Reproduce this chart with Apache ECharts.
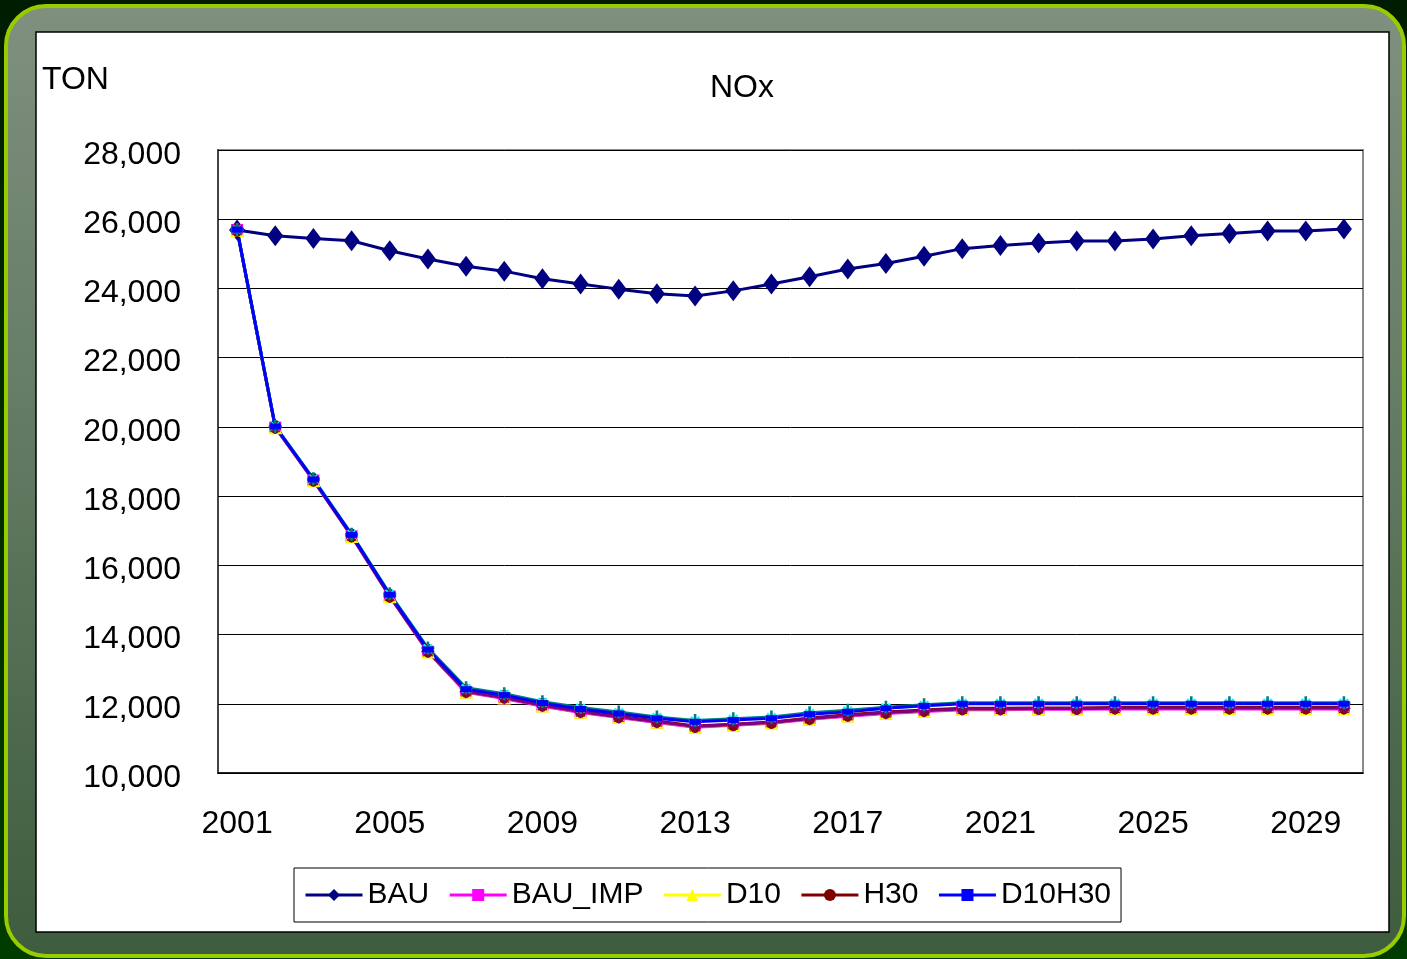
<!DOCTYPE html>
<html>
<head>
<meta charset="utf-8">
<script src="https://cdn.jsdelivr.net/npm/echarts@6/dist/echarts.min.js"></script>
<style>
html,body{margin:0;padding:0;background:#002800;}
#chart{width:1407px;height:959px;}
</style>
</head>
<body>
<div id="chart"></div>
<script>
const years = ['2001','2002','2003','2004','2005','2006','2007','2008','2009','2010','2011','2012','2013','2014','2015','2016','2017','2018','2019','2020','2021','2022','2023','2024','2025','2026','2027','2028','2029','2030'];
const bau =     [25690,25520,25440,25380,25090,24850,24640,24500,24280,24130,23980,23850,23780,23930,24130,24340,24560,24720,24930,25150,25240,25310,25370,25370,25430,25520,25590,25660,25660,25720];
const bauImp =  [25690,19980,18450,16840,15100,13500,12330,12150,11930,11750,11600,11460,11320,11380,11440,11550,11640,11720,11780,11830,11830,11840,11840,11850,11850,11850,11850,11850,11850,11850];
const d10 =     [25690,19990,18460,16850,15110,13510,12350,12180,11950,11770,11620,11480,11340,11400,11460,11570,11660,11740,11800,11850,11850,11860,11860,11870,11870,11870,11870,11870,11870,11870];
const h30 =     [25690,20000,18470,16860,15120,13530,12370,12200,11970,11790,11640,11500,11360,11410,11470,11590,11680,11760,11820,11870,11870,11880,11880,11890,11890,11890,11890,11890,11890,11890];
const d10h30 =  [25700,20010,18480,16880,15150,13570,12420,12250,12020,11850,11720,11580,11480,11530,11580,11700,11770,11870,11940,12000,12000,12000,12000,12000,12000,12000,12000,12000,12000,12000];
const extraTeal=[25700,20020,18500,16900,15180,13610,12460,12290,12060,11890,11760,11620,11520,11570,11620,11740,11810,11900,11970,12030,12030,12030,12030,12030,12030,12030,12030,12030,12030,12030];
const extraCyan=[25700,20010,18490,16890,15160,13590,12440,12270,12040,11870,11740,11600,11500,11550,11600,11720,11790,11880,11950,12010,12010,12010,12010,12010,12010,12010,12010,12010,12010,12010];
const extraPurple=[25690,19990,18460,16850,15110,13510,12350,12170,11950,11770,11620,11480,11340,11400,11460,11570,11660,11740,11800,11850,11850,11860,11860,11870,11870,11870,11870,11870,11870,11870];
const yTicks = {min:10000, max:28000, interval:2000};
const titleText = 'NOx';
const unitText = 'TON';

const FONT = 'Liberation Sans';
const plus = 'path://M4,0h2v4h4v2h-4v4h-2v-4h-4v-2h4z';
const star = 'path://M4.5,0h1v10h-1z M0,4.5h10v1h-10z M1,1.7l0.7,-0.7l7.3,7.3l-0.7,0.7z M9,1.7l-0.7,-0.7l-7.3,7.3l0.7,0.7z';

function ser(name, data, color, symbol, size, extra){
  return Object.assign({
    name: name, type:'line', data: data,
    symbol: symbol, symbolSize: size,
    lineStyle:{color: color, width: 3},
    itemStyle:{color: color},
    animation:false
  }, extra||{});
}

const chart = echarts.init(document.getElementById('chart'), null, {renderer:'canvas'});
chart.setOption({
  backgroundColor: {type:'linear',x:0,y:0,x2:0,y2:1,colorStops:[{offset:0,color:'#001c00'},{offset:1,color:'#003c00'}]},
  animation:false,
  graphic:[
    {type:'rect', z:-20, shape:{x:6,y:6,width:1398,height:950,r:40},
     style:{fill:{type:'linear',x:0,y:0,x2:0,y2:1,colorStops:[{offset:0,color:'#7f907f'},{offset:0.5,color:'#5f785f'},{offset:1,color:'#3e5c3e'}]},
            stroke:'#99cc00', lineWidth:4}},
    {type:'rect', z:-10, shape:{x:36,y:32,width:1353,height:900},
     style:{fill:'#ffffff', stroke:'#000000', lineWidth:1.5}},
    {type:'text', z:5, left:42, top:64, style:{text:unitText, fontFamily:FONT, fontSize:32, fill:'#000'}}
  ],
  title:{text:titleText, left:710, top:72, textStyle:{fontFamily:FONT, fontSize:32, fontWeight:'normal', color:'#000'}, padding:0},
  legend:{
    data:['BAU','BAU_IMP','D10','H30','D10H30'],
    left:294, top:868, padding:[12,10,12,10],
    itemWidth:57, itemHeight:15, itemGap:19,
    lineStyle:{width:3},
    borderColor:'#000', borderWidth:1, backgroundColor:'#fff',
    textStyle:{fontFamily:FONT, fontSize:30, color:'#000'}
  },
  grid:{left:218, right:44, top:150, bottom:186, show:true, borderColor:'#8a8a8a', borderWidth:2, backgroundColor:'#fff'},
  xAxis:{
    type:'category', data:years, boundaryGap:true,
    axisLine:{lineStyle:{color:'#000', width:1.5}},
    axisTick:{inside:true, length:10, interval:0, lineStyle:{color:'#000'}},
    axisLabel:{interval:3, margin:35, fontFamily:FONT, fontSize:32, color:'#000'},
    splitLine:{show:false}
  },
  yAxis:{
    type:'value', min:yTicks.min, max:yTicks.max, interval:yTicks.interval,
    axisLine:{show:true, lineStyle:{color:'#444', width:2}},
    axisTick:{show:true, inside:true, length:8, lineStyle:{color:'#000'}},
    axisLabel:{margin:37, color:'#000',
      formatter:function(v){return '{a|' + v.toLocaleString('en-US') + '}';},
      rich:{a:{fontFamily:FONT, fontSize:32, color:'#000', padding:[10,0,0,0]}}},
    splitLine:{lineStyle:{color:'#000', width:1}}
  },
  series:[
    ser('BAU', bau, '#000080', 'diamond', [16,21]),
    ser('BAU_IMP', bauImp, '#ff00ff', 'rect', 12),
    ser('D10', d10, '#ffff00', 'triangle', 14),
    ser('H30', h30, '#800000', 'circle', [11,14]),
    ser('S5', extraCyan, '#00ffff', plus, 12, {symbolRotate:45}),
    ser('S6', extraPurple, '#800080', star, 13),
    ser('S7', extraTeal, '#008080', plus, 13),
    ser('D10H30', d10h30, '#0000ff', 'rect', [11,6])
  ]
});
</script>
</body>
</html>
